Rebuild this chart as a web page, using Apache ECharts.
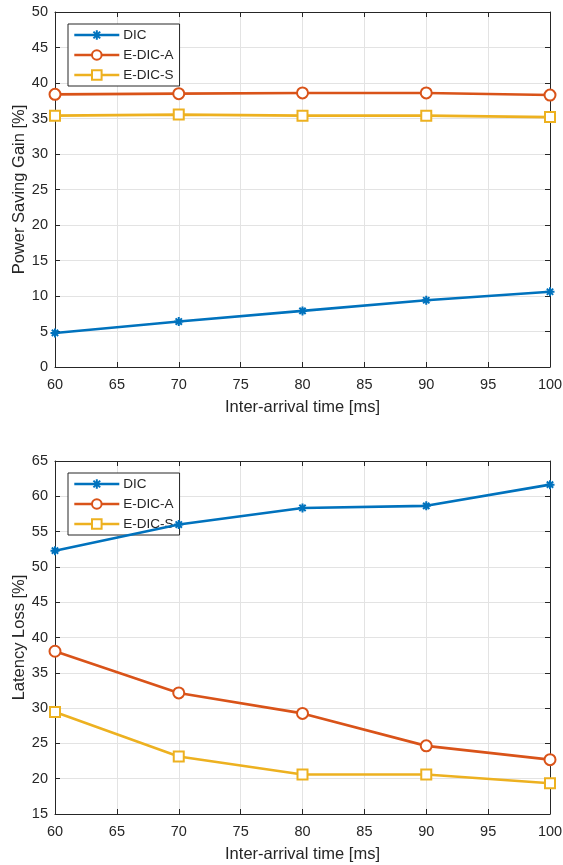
<!DOCTYPE html>
<html>
<head>
<meta charset="utf-8">
<script src="https://cdn.jsdelivr.net/npm/echarts@6/dist/echarts.min.js"></script>
<style>
  html, body { margin: 0; padding: 0; background: #fff; }
  #chart { width: 563px; height: 865px; }
</style>
</head>
<body>
<div id="chart"></div>
<script>
// inter-arrival times [ms]
const interArrival = [60, 70, 80, 90, 100];

// power saving gain [%]
const gainDIC = [4.8, 6.4, 7.9, 9.4, 10.6];
const gainEDICA = [38.4, 38.5, 38.6, 38.6, 38.3];
const gainEDICS = [35.4, 35.55, 35.4, 35.4, 35.2];

// latency loss [%]
const lossDIC = [52.3, 56.0, 58.35, 58.65, 61.65];
const lossEDICA = [38.05, 32.15, 29.25, 24.65, 22.7];
const lossEDICS = [29.45, 23.15, 20.6, 20.6, 19.35];

const seriesNames = ['DIC', 'E-DIC-A', 'E-DIC-S'];
const colors = ['#0072BD', '#D95319', '#EDB120'];

const font = '"Liberation Sans", Arial, Helvetica, sans-serif';
const textColor = '#262626';
const starPath = 'path://M5,0L5,10M0,5L10,5M1.5,1.5L8.5,8.5M8.5,1.5L1.5,8.5';

function pairs(xs, ys)
{
    return xs.map((x, i) => [x, ys[i]]);
}

function makeSeries(idx, name, xs, ys)
{
    const k = seriesNames.indexOf(name);
    const sym = [starPath, 'emptyCircle', 'emptyRect'][k];
    const size = [9, 11, 10][k];
    return {
        type: 'line',
        name: name,
        xAxisIndex: idx * 2,
        yAxisIndex: idx * 2,
        data: pairs(xs, ys),
        symbol: sym,
        symbolSize: size,
        showAllSymbol: true,
        animation: false,
        lineStyle: { color: colors[k], width: 2.6 },
        itemStyle: {
            color: colors[k],
            borderColor: colors[k],
            borderWidth: k === 0 ? 2 : 2.2
        },
        z: 5
    };
}

function mainX(gridIndex)
{
    return {
        type: 'value', gridIndex: gridIndex, min: 60, max: 100, interval: 5,
        name: 'Inter-arrival time [ms]', nameLocation: 'middle', nameGap: 32,
        nameMoveOverlap: false,
        nameTextStyle: { fontFamily: font, fontSize: 16.5, color: textColor },
        axisLine: { show: true, onZero: false, lineStyle: { color: textColor, width: 1 } },
        axisTick: { show: true, inside: true, length: 5, lineStyle: { color: textColor } },
        axisLabel: { fontFamily: font, fontSize: 14.5, color: textColor, margin: 10 },
        splitLine: { show: true, lineStyle: { color: '#e3e3e3', width: 1 } }
    };
}

function topX(gridIndex)
{
    return {
        type: 'value', gridIndex: gridIndex, position: 'top', min: 60, max: 100, interval: 5,
        axisLine: { show: true, onZero: false, lineStyle: { color: textColor, width: 1 } },
        axisTick: { show: true, inside: true, length: 5, lineStyle: { color: textColor } },
        axisLabel: { show: false },
        splitLine: { show: false }
    };
}

function mainY(gridIndex, name, min, max)
{
    return {
        type: 'value', gridIndex: gridIndex, min: min, max: max, interval: 5,
        name: name, nameLocation: 'middle', nameGap: 27,
        nameMoveOverlap: false,
        nameTextStyle: { fontFamily: font, fontSize: 16.5, color: textColor },
        axisLine: { show: true, onZero: false, lineStyle: { color: textColor, width: 1 } },
        axisTick: { show: true, inside: true, length: 5, lineStyle: { color: textColor } },
        axisLabel: { fontFamily: font, fontSize: 14.5, color: textColor, margin: 7 },
        splitLine: { show: true, lineStyle: { color: '#e3e3e3', width: 1 } }
    };
}

function rightY(gridIndex, min, max)
{
    return {
        type: 'value', gridIndex: gridIndex, position: 'right', min: min, max: max, interval: 5,
        axisLine: { show: true, onZero: false, lineStyle: { color: textColor, width: 1 } },
        axisTick: { show: true, inside: true, length: 5, lineStyle: { color: textColor } },
        axisLabel: { show: false },
        splitLine: { show: false }
    };
}

function makeLegend(top)
{
    return {
        orient: 'vertical', left: 68, top: top,
        data: seriesNames,
        itemWidth: 45, itemHeight: 12, itemGap: 6,
        padding: [4, 6, 4, 5],
        backgroundColor: '#fff',
        borderColor: textColor, borderWidth: 1,
        lineStyle: { width: 2.6 },
        textStyle: { fontFamily: font, fontSize: 13.5, color: textColor, padding: [0, 0, 0, -1] },
        selectedMode: false
    };
}

const chart = echarts.init(document.getElementById('chart'), null, { renderer: 'canvas' });

const topSeries = [
    makeSeries(0, 'DIC', interArrival, gainDIC),
    makeSeries(0, 'E-DIC-A', interArrival, gainEDICA),
    makeSeries(0, 'E-DIC-S', interArrival, gainEDICS)
];
const bottomSeries = [
    makeSeries(1, 'DIC', interArrival, lossDIC),
    makeSeries(1, 'E-DIC-A', interArrival, lossEDICA),
    makeSeries(1, 'E-DIC-S', interArrival, lossEDICS)
];

chart.setOption({
    backgroundColor: '#fff',
    animation: false,
    grid: [
        { left: 55, right: 13, top: 12, height: 355, outerBoundsMode: 'none', containLabel: false },
        { left: 55, right: 13, top: 461, height: 353, outerBoundsMode: 'none', containLabel: false }
    ],
    legend: [makeLegend(24), makeLegend(473)],
    xAxis: [mainX(0), topX(0), mainX(1), topX(1)],
    yAxis: [
        mainY(0, 'Power Saving Gain [%]', 0, 50), rightY(0, 0, 50),
        mainY(1, 'Latency Loss [%]', 15, 65), rightY(1, 15, 65)
    ],
    series: topSeries.concat(bottomSeries)
});
</script>
</body>
</html>
